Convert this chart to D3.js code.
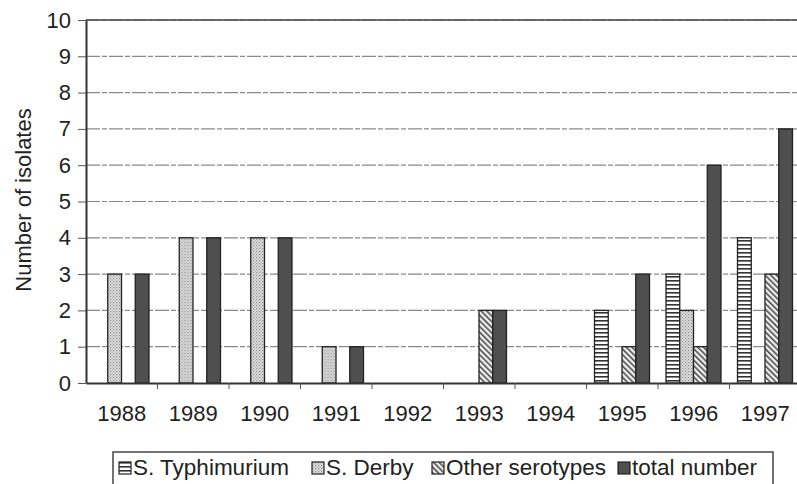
<!DOCTYPE html>
<html>
<head>
<meta charset="utf-8">
<script src="https://cdn.jsdelivr.net/npm/d3@7"></script>
<style>
  body { margin: 0; background: #fff; }
  svg { display: block; font-family: "Liberation Sans", Arial, sans-serif; }
</style>
</head>
<body>
<svg id="chart" width="797" height="484"></svg>
<script>
// data
var years = ["1988","1989","1990","1991","1992","1993","1994","1995","1996","1997"];
var typhimurium = [0,0,0,0,0,0,0,2,3,4];
var derby       = [3,4,4,1,0,0,0,0,2,0];
var other       = [0,0,0,0,0,2,0,1,1,3];
var total       = [3,4,4,1,0,2,0,3,6,7];
var seriesNames = ["S. Typhimurium","S. Derby","Other serotypes","total number"];
var yTicks = [0,1,2,3,4,5,6,7,8,9,10];

var svg = d3.select("#chart");
var defs = svg.append("defs");

/* fill patterns, scanned-print style */
var p = defs.append("pattern").attr("id","pStripe").attr("patternUnits","userSpaceOnUse")
  .attr("width",4).attr("height",4);
p.append("rect").attr("width",4).attr("height",4).attr("fill","#fff");
p.append("rect").attr("y",0).attr("width",4).attr("height",1.6).attr("fill","#333");

p = defs.append("pattern").attr("id","pDots").attr("patternUnits","userSpaceOnUse")
  .attr("width",3).attr("height",3);
p.append("rect").attr("width",3).attr("height",3).attr("fill","#e4e4e4");
p.append("rect").attr("x",0).attr("y",0).attr("width",1.2).attr("height",1.2).attr("fill","#888");
p.append("rect").attr("x",1.5).attr("y",1.5).attr("width",1.2).attr("height",1.2).attr("fill","#999");

p = defs.append("pattern").attr("id","pDiag").attr("patternUnits","userSpaceOnUse")
  .attr("width",4).attr("height",4).attr("patternTransform","rotate(-45)");
p.append("rect").attr("width",4).attr("height",4).attr("fill","#eee");
p.append("rect").attr("width",1.5).attr("height",4).attr("fill","#444");

var fills = ["url(#pStripe)","url(#pDots)","url(#pDiag)","#4f4f4f"];

var margin = {left: 86, top: 20, right: -4, bottom: 101};
var W = 797 - margin.left - margin.right, H = 484 - margin.top - margin.bottom;
var g = svg.append("g").attr("transform","translate(" + margin.left + "," + margin.top + ")");

var x = d3.scaleBand().domain(years).range([0, W]);
var x1 = d3.scaleBand().domain(d3.range(4)).range([8, 63]);
var y = d3.scaleLinear().domain([0, 10]).range([H, 0]);

// gridlines
g.append("g").selectAll("line").data(yTicks.slice(1)).enter().append("line")
  .attr("x1",0).attr("x2",W).attr("y1",d => y(d)).attr("y2",d => y(d))
  .attr("stroke","#8a8a8a").attr("stroke-width",1.2).attr("stroke-dasharray","14,2,5,2");

var rows = years.map(function(yr, i) {
  return {year: yr, vals: [typhimurium[i], derby[i], other[i], total[i]]};
});

var grp = g.selectAll(".yr").data(rows).enter().append("g")
  .attr("transform", d => "translate(" + x(d.year) + ",0)");
grp.selectAll("rect").data(d => d.vals.map((v, k) => ({v: v, k: k})).filter(e => e.v > 0))
  .enter().append("rect")
  .attr("x", d => x1(d.k)).attr("width", x1.bandwidth())
  .attr("y", d => y(d.v)).attr("height", d => y(0) - y(d.v))
  .attr("fill", d => fills[d.k]).attr("stroke","#222").attr("stroke-width",1.3);

// axes
var yAxis = g.append("g").call(d3.axisLeft(y).tickValues(yTicks).tickSize(8).tickPadding(7).tickSizeOuter(0));
yAxis.select(".domain").attr("stroke","#333").attr("stroke-width",2);
yAxis.selectAll(".tick line").attr("stroke","#555");
yAxis.selectAll("text").attr("font-size",22).attr("fill","#222");

var xAxis = g.append("g").attr("transform","translate(0," + H + ")")
  .call(d3.axisBottom(x).tickSize(0).tickPadding(22).tickSizeOuter(0));
xAxis.select(".domain").attr("stroke","#333").attr("stroke-width",2);
xAxis.selectAll("text").attr("font-size",22).attr("fill","#222");
// boundary ticks between categories
xAxis.append("g").selectAll("line").data(years.slice(1)).enter().append("line")
  .attr("x1", d => x(d)).attr("x2", d => x(d)).attr("y1",0).attr("y2",6).attr("stroke","#555");

// top frame line
g.append("line").attr("x1",0).attr("x2",W).attr("y1",0).attr("y2",0).attr("stroke","#444").attr("stroke-width",1.5);

// y title
svg.append("text").attr("transform","translate(31,200) rotate(-90)")
  .attr("text-anchor","middle").attr("font-size",22).attr("fill","#222").text("Number of isolates");

// legend
var leg = svg.append("g").attr("transform","translate(113,452)");
leg.append("rect").attr("width",660).attr("height",45).attr("fill","none")
  .attr("stroke","#444").attr("stroke-width",1.5);
var pos = [6, 199, 319, 505];
seriesNames.forEach(function(n, k) {
  var it = leg.append("g").attr("transform","translate(" + pos[k] + ",10)");
  it.append("rect").attr("width",12).attr("height",12).attr("fill",fills[k]).attr("stroke","#222").attr("stroke-width",1.2);
  it.append("text").attr("x",14).attr("y",13).attr("font-size",22.5).attr("fill","#222").text(n);
});
</script>
</body>
</html>
